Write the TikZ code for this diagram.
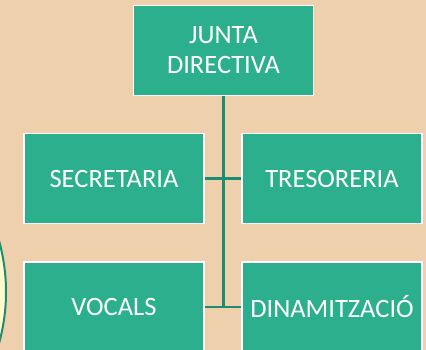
\documentclass[tikz,border=0pt]{standalone}
\usepackage{fontspec}
\setmainfont{Carlito}
\usepackage{xcolor}
\definecolor{fons}{RGB}{238,209,172}
\definecolor{verd}{RGB}{43,175,140}
\definecolor{linia}{RGB}{30,140,110}
\definecolor{crema}{RGB}{255,250,205}
\usetikzlibrary{calc}

\begin{document}
\begin{tikzpicture}[x=1pt, y=-1pt,
  caixa/.style={fill=verd, draw=white, line width=1.5pt, minimum width=180pt, minimum height=90pt,
    text=white, font=\fontsize{26.5}{30}\selectfont, align=center, inner sep=0pt},
  lin/.style={draw=linia, line width=2.5pt}]
\useasboundingbox (0,0) rectangle (426,350);
\fill[fons] (0,0) rectangle (426,350);
\begin{scope}
\clip (0,0) rectangle (426,350);
\draw[fill=crema, draw=linia, line width=2pt] (-185,292) circle (191);
\end{scope}
\node[caixa] (junta) at (223.5,50.5) {JUNTA\\DIRECTIVA};
\foreach \nom/\x/\y/\txt in {secre/114/178.5/SECRETARIA, treso/332/178.5/TRESORERIA,
  vocals/114/307/VOCALS, dinam/332/307/DINAMITZACIÓ}{
\node[caixa] (\nom) at (\x,\y) {\txt};
}
\coordinate (baix) at (junta.south |- vocals.east);
\draw[lin] (junta.south) -- (baix);
\draw[lin] (secre.east) -- (treso.west);
\draw[lin] (vocals.east) -- (dinam.west);
\end{tikzpicture}
\end{document}
